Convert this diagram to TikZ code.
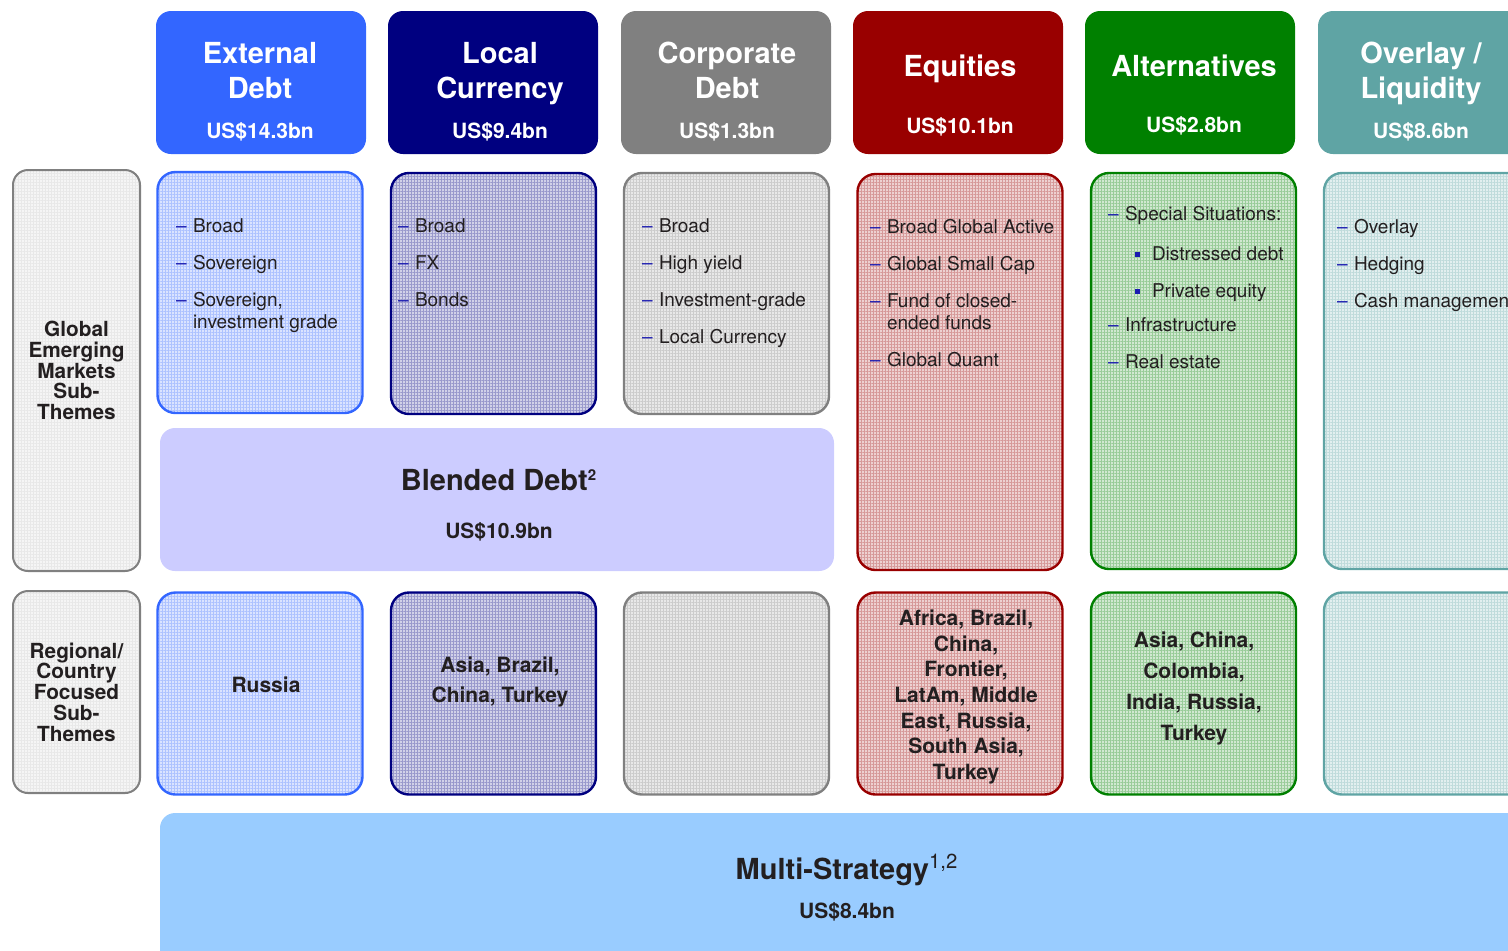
\PassOptionsToPackage{svgnames}{xcolor}
\documentclass[tikz,border=0pt]{standalone}
\usepackage{fontspec}
\setmainfont{TeX Gyre Heros}
\usetikzlibrary{patterns.meta}

\definecolor{externalDebt}{HTML}{3366FF}
\colorlet{localCurrency}{Navy}
\colorlet{corporateDebt}{Gray}
\definecolor{equities}{HTML}{990000}
\colorlet{alternatives}{Green}
\definecolor{overlay}{HTML}{5FA4A4}
\definecolor{blendedDebt}{HTML}{CCCCFF}
\definecolor{multiStrategy}{HTML}{99CCFF}
\definecolor{themeText}{HTML}{231F20}
\definecolor{listMark}{HTML}{1A1AB0}
\colorlet{sideGray}{Gray!45}

% list marks
\newcommand{\dashitem}{\makebox[8.5pt][l]{\textcolor{listMark}{--}}}
\newcommand{\hangitem}{\hspace*{8.5pt}}
\newcommand{\squareitem}{\hspace*{13.5pt}\makebox[8.5pt][l]{\textcolor{listMark}{\rule[0.3ex]{2.5pt}{2.5pt}}}}

\begin{document}
\begin{tikzpicture}[
  x=0.5pt,
  y=-0.5pt,
  every node/.style={
    inner sep=0pt,
    outer sep=0pt
  },
  grid fill/.style={
    preaction={fill=#1!18},
    preaction={pattern={Lines[distance=1.5pt,line width=.25pt]},pattern color=#1!40},
    preaction={pattern={Lines[angle=90,distance=1.5pt,line width=.25pt]},pattern color=#1!40}
  },
  head/.style={
    fill=#1,
    rounded corners=7.5pt,
    minimum width=105pt,
    minimum height=71.5pt
  },
  head title/.style={
    text=white,
    align=center,
    font=\bfseries\fontsize{14.5}{17.5}\selectfont
  },
  head amount/.style={
    text=white,
    font=\bfseries\fontsize{10.5}{12}\selectfont
  },
  theme box/.style={
    grid fill=#1,
    draw=#1,
    line width=1.2pt,
    rounded corners=9pt,
    minimum width=102.5pt
  },
  side box/.style={
    grid fill=sideGray,
    draw=Gray,
    line width=1pt,
    rounded corners=7.5pt,
    minimum width=63.5pt,
    align=center,
    text=themeText,
    font=\bfseries\fontsize{10.4}{10.4}\selectfont
  },
  theme list/.style={
    anchor=north west,
    align=left,
    text=themeText,
    font=\fontsize{9.5}{11}\selectfont
  },
  region text/.style={
    align=center,
    text=themeText,
    font=\bfseries\fontsize{10.5}{15}\selectfont
  },
  big title/.style={
    text=themeText,
    font=\bfseries\fontsize{14.5}{17}\selectfont
  },
  big amount/.style={
    text=themeText,
    font=\bfseries\fontsize{10.5}{12}\selectfont
  }
]
\path[use as bounding box,clip] (0,0) rectangle (1508,950);

% asset class headers
\foreach \id/\x/\tx/\col/\headline/\ty/\amt/\ay in {
  ext/261/260/externalDebt/{External\\Debt}/70.5/14.3/132,
  loc/493/500/localCurrency/{Local\\Currency}/73.5/9.4/132,
  corp/726/727/corporateDebt/{Corporate\\Debt}/70.5/1.3/132,
  eq/958/960/equities/Equities/69/10.1/127,
  alt/1190/1194/alternatives/Alternatives/66/2.8/126,
  ovl/1423/1421/overlay/{Overlay /\\Liquidity}/73.5/8.6/132}
{
  \node[head=\col] (\id-head) at (\x,82.5) {};
  \node[head title] (\id-title) at (\tx,\ty) {\headline};
  \node[head amount] (\id-amount) at (\tx,\ay) {US\$\amt bn};
}

% sub-theme boxes, global row and regional row
\foreach \id/\x/\col/\h/\y in {
  ext/260/externalDebt/120.5/292.5,
  loc/493.5/localCurrency/120.5/293.5,
  corp/726.5/corporateDebt/120.5/293.5,
  eq/960/equities/198/372,
  alt/1193.5/alternatives/198/371,
  ovl/1426.5/overlay/198/371}
{
  \node[theme box=\col,minimum height=\h pt] (\id-global) at (\x,\y) {};
  \node[theme box=\col,minimum height=101pt] (\id-region) at (\x,693.5) {};
}

% row labels
\node[side box,minimum height=200.5pt] (global-side) at (76.5,370.5)
  {Global\\Emerging\\Markets\\Sub-\\Themes};
\node[side box,minimum height=101pt] (region-side) at (76.5,692)
  {Regional/\\Country\\Focused\\Sub-\\Themes};

% global sub-themes
\node[theme list] (ext-list) at (176,219)
  {\dashitem Broad\\[7.5pt]\dashitem Sovereign\\[7.5pt]\dashitem Sovereign,\\\hangitem investment grade};
\node[theme list] (loc-list) at (398,219)
  {\dashitem Broad\\[7.5pt]\dashitem FX\\[7.5pt]\dashitem Bonds};
\node[theme list] (corp-list) at (642,219)
  {\dashitem Broad\\[7.5pt]\dashitem High yield\\[7.5pt]\dashitem Investment-grade\\[7.5pt]\dashitem Local Currency};
\node[theme list] (eq-list) at (870,219)
  {\dashitem Broad Global Active\\[7.5pt]\dashitem Global Small Cap\\[7.5pt]\dashitem Fund of closed-\\\hangitem ended funds\\[7.5pt]\dashitem Global Quant};
\node[theme list] (alt-list) at (1108,206)
  {\dashitem Special Situations:\\[9pt]\squareitem Distressed debt\\[7.5pt]\squareitem Private equity\\[6pt]\dashitem Infrastructure\\[7.5pt]\dashitem Real estate};
\node[theme list] (ovl-list) at (1337,219)
  {\dashitem Overlay\\[7.5pt]\dashitem Hedging\\[7.5pt]\dashitem Cash management};

% blended debt
\node[fill=blendedDebt,rounded corners=7.5pt,minimum width=337pt,minimum height=71.5pt]
  (blend-box) at (497,499.5) {};
\node[big title] (blend-title) at (499,480) {Blended Debt\textsuperscript{\fontsize{7.5}{8}\selectfont 2}};
\node[big amount] (blend-amount) at (499,532) {US\$10.9bn};

% regional sub-themes
\node[region text] (ext-countries) at (266,685) {Russia};
\node[region text] (loc-countries) at (500,682) {Asia, Brazil,\\China, Turkey};
\node[region text,font=\bfseries\fontsize{10.5}{12.8}\selectfont] (eq-countries) at (966,697)
  {Africa, Brazil,\\China,\\Frontier,\\LatAm, Middle\\East, Russia,\\South Asia,\\Turkey};
\node[region text,font=\bfseries\fontsize{10.5}{15.5}\selectfont] (alt-countries) at (1194,688)
  {Asia, China,\\Colombia,\\India, Russia,\\Turkey};

% multi-strategy
\node[fill=multiStrategy,rounded corners=7.5pt,minimum width=700pt,minimum height=93.5pt]
  (multi-box) at (860,906.5) {};
\node[big title] (multi-title) at (847,870) {Multi-Strategy\textsuperscript{\mdseries 1,2}};
\node[big amount] (multi-amount) at (847,912) {US\$8.4bn};
\end{tikzpicture}
\end{document}
